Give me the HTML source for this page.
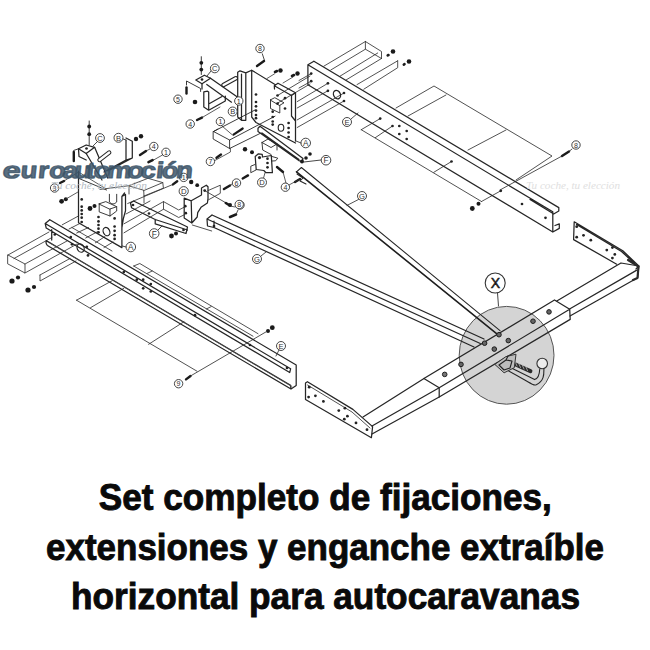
<!DOCTYPE html>
<html><head><meta charset="utf-8">
<style>
html,body{margin:0;padding:0;background:#fff;width:650px;height:650px;overflow:hidden}
svg{display:block}
</style></head><body>
<svg width="650" height="650" viewBox="0 0 650 650">
<rect width="650" height="650" fill="#fff"/>
<path d="M365.4,41.5 L323.8,66.2 M365.4,49.2 L330.8,70 M377.7,53 L340,76.2 M381.5,58.5 L346,80 M365.4,41.5 L381.5,51.5 L381.5,58.5 M365.4,41.5 L365.4,49.2 L381.5,58.5 M397.7,60.8 L357,84.6 M397.7,60.8 L397.7,67.7 L363.8,89.2" fill="none" stroke="#333" stroke-width="0.85" stroke-linejoin="round" stroke-linecap="round" />
<path d="M387.7,55.4 L388.5,55" stroke="#1a1a1a" stroke-width="2.6" stroke-linecap="round"/>
<circle cx="393" cy="51.5" r="2.3" fill="#1a1a1a"/>
<path d="M403.8,64.6 L404.5,64.2" stroke="#1a1a1a" stroke-width="2.6" stroke-linecap="round"/>
<circle cx="409" cy="61.5" r="2.3" fill="#1a1a1a"/>
<path d="M396,108 L434,86 L552,156 L516,180 M408,116 L446,95 M468,150 L506,130" fill="none" stroke="#333" stroke-width="0.85" stroke-linejoin="round" stroke-linecap="round" />
<path d="M361.2,129.7 L481.5,201.5 M361.2,129.7 L380.2,118.6 M375.3,137.7 L392.5,126 M433.8,172.3 L451.5,161.5 M481.5,201.5 L500.8,190.8" fill="none" stroke="#333" stroke-width="0.85" stroke-linejoin="round" stroke-linecap="round" />
<path d="M311.2,73.6 L299,80.5 M311.2,81.2 L299,88" fill="none" stroke="#333" stroke-width="0.85" stroke-linejoin="round" stroke-linecap="round" />
<path d="M297.2,101.6 L327.9,83.3 M297.2,108 L327.9,90.8 M297.2,119.9 L344,93 M297.2,127.5 L344,101" fill="none" stroke="#333" stroke-width="0.85" stroke-linejoin="round" stroke-linecap="round" />
<path d="M277.7,95.4 L310,76 M277.7,103 L310,84" fill="none" stroke="#333" stroke-width="0.85" stroke-linejoin="round" stroke-linecap="round" />
<path d="M8,255 L49,232 M25,264 L67,241 M8,255 L25,264 L25,273 L8,264 Z M25,273 L77,244 M14,258.5 L52,237.5" fill="none" stroke="#333" stroke-width="0.85" stroke-linejoin="round" stroke-linecap="round" />
<path d="M40,275 L40,281 L76,261 M40,275 L70,258.5" fill="none" stroke="#333" stroke-width="0.85" stroke-linejoin="round" stroke-linecap="round" />
<circle cx="12" cy="281" r="2.6" fill="#1a1a1a"/>
<circle cx="18" cy="277.5" r="2.1" fill="#1a1a1a"/>
<circle cx="28" cy="290" r="2.6" fill="#1a1a1a"/>
<circle cx="34" cy="287" r="2.1" fill="#1a1a1a"/>
<path d="M62.2,224.8 L78.8,215.8 M69,229 L80,223.4 M76.7,233 L88.5,227.5 M85.7,238 L97.5,231.7 M95.4,242.8 L105,236.5 M104,247.5 L113,242 M71.9,227.5 L112,251" fill="none" stroke="#333" stroke-width="0.85" stroke-linejoin="round" stroke-linecap="round" />
<path d="M127.7,203.5 L172,184.8 M126,214 L150,201" fill="none" stroke="#333" stroke-width="0.85" stroke-linejoin="round" stroke-linecap="round" />
<path d="M173,184.4 L177.2,181.2" stroke="#1a1a1a" stroke-width="2.4" stroke-linecap="round"/>
<circle cx="183.7" cy="177.4" r="4.2" fill="#fff" stroke="#333" stroke-width="0.9"/>
<text x="183.7" y="180.0" font-family="Liberation Sans, sans-serif" font-size="7.1" text-anchor="middle" fill="#333">1</text>
<path d="M76.5,300.2 L112,280.8 M76.5,300.2 L197,371.2 M90.5,307.7 L123.8,288.3 M148.6,344.3 L184,321.7" fill="none" stroke="#333" stroke-width="0.85" stroke-linejoin="round" stroke-linecap="round" />
<path d="M133.7,266 L139.8,263.5 L258,333.7 M133.7,266 L253,336.2 M147.2,273.4 L152.2,271 M206.3,309 L211.2,306.6" fill="none" stroke="#333" stroke-width="0.85" stroke-linejoin="round" stroke-linecap="round" />
<path d="M186,379.4 L190.5,376" stroke="#1a1a1a" stroke-width="2.4" stroke-linecap="round"/>
<path d="M190.5,376 L265.8,332" fill="none" stroke="#333" stroke-width="0.85" stroke-linejoin="round" stroke-linecap="round" />
<circle cx="178.6" cy="383.7" r="4.2" fill="#fff" stroke="#333" stroke-width="0.9"/>
<text x="178.6" y="386.3" font-family="Liberation Sans, sans-serif" font-size="7.1" text-anchor="middle" fill="#333">9</text>
<circle cx="268" cy="331" r="2.0" fill="#1a1a1a"/>
<circle cx="272.3" cy="327.7" r="2.4" fill="#1a1a1a"/>
<circle cx="576" cy="145" r="4.2" fill="#fff" stroke="#333" stroke-width="0.9"/>
<text x="576" y="147.6" font-family="Liberation Sans, sans-serif" font-size="7.1" text-anchor="middle" fill="#333">8</text>
<path d="M562,156 L569,151.5" stroke="#1a1a1a" stroke-width="2.4" stroke-linecap="round"/>
<path d="M569,151.5 L572,149" fill="none" stroke="#333" stroke-width="0.85" stroke-linejoin="round" stroke-linecap="round" />
<path d="M500,190 L562,156" fill="none" stroke="#333" stroke-width="0.85" stroke-linejoin="round" stroke-linecap="round" />
<circle cx="472.3" cy="208.5" r="2.4" fill="#1a1a1a"/>
<circle cx="478.5" cy="203.8" r="2.0" fill="#1a1a1a"/>
<ellipse cx="506.6" cy="355.3" rx="47.4" ry="48.9" fill="#d4d4d4" stroke="#555" stroke-width="1"/>
<path d="M313.9,61.2 L558.8,207.6 L558.8,211 L552.8,214.5 M307.9,64.8 L313.9,61.2 M307.9,64.8 L552.8,211.8 M530,199.5 L553,213.5 M307.9,64.8 L307.9,84.7 L552.8,232 M552.8,211.8 L552.8,232 L559.3,228.4 L559.3,223.8 L555,225.5" fill="none" stroke="#262626" stroke-width="1.25" stroke-linejoin="round" stroke-linecap="round" />
<circle cx="311.2" cy="73.6" r="1.35" fill="#222"/>
<circle cx="311.2" cy="81.2" r="1.35" fill="#222"/>
<circle cx="327.9" cy="83.3" r="1.35" fill="#222"/>
<circle cx="327.9" cy="90.8" r="1.35" fill="#222"/>
<circle cx="344" cy="93" r="1.35" fill="#222"/>
<circle cx="344" cy="101" r="1.35" fill="#222"/>
<circle cx="380.2" cy="118.6" r="1.35" fill="#222"/>
<circle cx="392.5" cy="126" r="1.35" fill="#222"/>
<circle cx="399.3" cy="126" r="1.35" fill="#222"/>
<circle cx="406.7" cy="131" r="1.35" fill="#222"/>
<circle cx="399.3" cy="134" r="1.35" fill="#222"/>
<circle cx="406.7" cy="139" r="1.35" fill="#222"/>
<circle cx="451.5" cy="161.5" r="1.35" fill="#222"/>
<circle cx="500.8" cy="190.8" r="1.35" fill="#222"/>
<circle cx="522" cy="204" r="1.35" fill="#222"/>
<circle cx="545.5" cy="217.8" r="1.35" fill="#222"/>
<ellipse cx="337" cy="94.6" rx="3.4" ry="4.4" transform="rotate(-25 337 94.6)" fill="none" stroke="#222" stroke-width="1.3"/>
<circle cx="347" cy="122" r="4.5" fill="#fff" stroke="#333" stroke-width="0.9"/>
<text x="347" y="124.8" font-family="Liberation Sans, sans-serif" font-size="7.6" text-anchor="middle" fill="#333">E</text>
<path d="M351,119 L358,113" fill="none" stroke="#333" stroke-width="0.85" stroke-linejoin="round" stroke-linecap="round" />
<path d="M49.8,219.7 L296.2,365 L296.2,385.4 L291,389 M45.2,223.5 L49.8,219.7 M45.2,223.5 L290.6,368.8 M45.2,223.5 L46.2,228 L289.7,372.5 L290.6,368.8 M46.2,240.6 L290.6,385.4 M46.2,240.6 Q45.5,244 47.4,245.5 L291,389 L290.6,385.4 M51.7,229.5 L51.7,240" fill="none" stroke="#262626" stroke-width="1.25" stroke-linejoin="round" stroke-linecap="round" />
<path d="M50,243 L292,386.5" fill="none" stroke="#555" stroke-width="0.7" stroke-linejoin="round" stroke-linecap="round" />
<circle cx="54.8" cy="234.5" r="1.35" fill="#222"/>
<circle cx="70.8" cy="237" r="1.35" fill="#222"/>
<circle cx="72" cy="244.3" r="1.35" fill="#222"/>
<circle cx="86.8" cy="246.8" r="1.35" fill="#222"/>
<circle cx="88" cy="255.4" r="1.35" fill="#222"/>
<circle cx="123.8" cy="272" r="1.35" fill="#222"/>
<circle cx="136.8" cy="279.7" r="1.35" fill="#222"/>
<circle cx="143.2" cy="279.7" r="1.35" fill="#222"/>
<circle cx="150.8" cy="284" r="1.35" fill="#222"/>
<circle cx="143.2" cy="288.3" r="1.35" fill="#222"/>
<circle cx="150.8" cy="291.5" r="1.35" fill="#222"/>
<circle cx="195" cy="315.2" r="1.35" fill="#222"/>
<circle cx="250" cy="345" r="1.35" fill="#222"/>
<circle cx="287" cy="368" r="1.35" fill="#222"/>
<ellipse cx="80.6" cy="248" rx="3.4" ry="4.4" transform="rotate(-25 80.6 248)" fill="none" stroke="#222" stroke-width="1.2"/>
<circle cx="281" cy="346" r="4.5" fill="#fff" stroke="#333" stroke-width="0.9"/>
<text x="281" y="348.8" font-family="Liberation Sans, sans-serif" font-size="7.6" text-anchor="middle" fill="#333">E</text>
<path d="M279,350 L276,356" fill="none" stroke="#333" stroke-width="0.85" stroke-linejoin="round" stroke-linecap="round" />
<path d="M212,215 L484,339 M207,219 L212,215 M207,219 L480.3,343.5 M207,219 L207.5,226 L214,227.5 L474,347 M214,221 L214,227.5" fill="none" stroke="#262626" stroke-width="1.25" stroke-linejoin="round" stroke-linecap="round" />
<circle cx="214" cy="226" r="1.35" fill="#222"/>
<circle cx="257" cy="259" r="4.5" fill="#fff" stroke="#333" stroke-width="0.9"/>
<text x="257" y="261.8" font-family="Liberation Sans, sans-serif" font-size="7.6" text-anchor="middle" fill="#333">G</text>
<path d="M261,256 L266,252" fill="none" stroke="#333" stroke-width="0.85" stroke-linejoin="round" stroke-linecap="round" />
<path d="M230,217 L236,214.5" stroke="#1a1a1a" stroke-width="2.6" stroke-linecap="round"/>
<path d="M236,214.5 L238,210" fill="none" stroke="#333" stroke-width="0.85" stroke-linejoin="round" stroke-linecap="round" />
<circle cx="240" cy="205" r="4.2" fill="#fff" stroke="#333" stroke-width="0.9"/>
<text x="240" y="207.6" font-family="Liberation Sans, sans-serif" font-size="7.1" text-anchor="middle" fill="#333">8</text>
<path d="M301.4,167.5 L500,330.6 M296.5,171.8 L301.4,167.5 M297,174 L303,178 L300,181 L306,184" fill="none" stroke="#262626" stroke-width="1.05" stroke-linejoin="round" stroke-linecap="round" />
<path d="M296.5,171.8 L497.5,334.3" fill="none" stroke="#1e1e1e" stroke-width="1.6" stroke-linejoin="round" stroke-linecap="round" />
<circle cx="362" cy="196" r="4.5" fill="#fff" stroke="#333" stroke-width="0.9"/>
<text x="362" y="198.8" font-family="Liberation Sans, sans-serif" font-size="7.6" text-anchor="middle" fill="#333">G</text>
<path d="M358.5,199.5 L347,205.4" fill="none" stroke="#333" stroke-width="0.85" stroke-linejoin="round" stroke-linecap="round" />
<path d="M305.5,383 L307.4,381.7 L352.9,409.4 L372.6,426.6 L371.4,437.7 L305.5,399.5 Z" fill="none" stroke="#262626" stroke-width="1.25" stroke-linejoin="round"/>
<path d="M307.5,385 L352,412 L370,428" fill="none" stroke="#262626" stroke-width="0.8" stroke-linejoin="round" stroke-linecap="round" />
<circle cx="309.2" cy="387.2" r="1.4" fill="#222"/>
<circle cx="308.6" cy="397.1" r="1.4" fill="#222"/>
<circle cx="315.4" cy="395.8" r="1.4" fill="#222"/>
<circle cx="323.4" cy="401.4" r="1.4" fill="#222"/>
<circle cx="338.8" cy="410.6" r="1.4" fill="#222"/>
<circle cx="344.9" cy="408.2" r="1.4" fill="#222"/>
<circle cx="347.4" cy="416.2" r="1.4" fill="#222"/>
<circle cx="344.3" cy="419.2" r="1.4" fill="#222"/>
<circle cx="356" cy="422.9" r="1.4" fill="#222"/>
<circle cx="367" cy="429.7" r="1.4" fill="#222"/>
<path d="M363,417 L424,378.5 M372,426 L439.2,387.8 M372,434 L439.2,397" fill="none" stroke="#262626" stroke-width="1.25" stroke-linejoin="round" stroke-linecap="round" />
<path d="M423.9,378.5 L554.5,300 L569.7,309.2 L439.2,387.8 Z M439.2,387.8 L439.2,397 L570.2,319.4 L569.7,309.2" fill="none" stroke="#262626" stroke-width="1.25" stroke-linejoin="round" stroke-linecap="round" />
<circle cx="444.7" cy="374.4" r="2.3" fill="#777" stroke="#222" stroke-width="1"/>
<path d="M556.8,301 L616.7,265.5 M570,308.8 L636.4,270.4 M570,316 L637.6,277.8 M616.7,265.5 L621,263 L638.8,266 L637.6,277.8" fill="none" stroke="#262626" stroke-width="1.25" stroke-linejoin="round" stroke-linecap="round" />
<path d="M574.2,221.8 L622.8,250.7 L638.8,266 L636,269 M574.2,221.8 L573.6,239.6 L616.7,264.2 M576.5,224.5 L621.5,251.5 L634,263" fill="none" stroke="#262626" stroke-width="1.25" stroke-linejoin="round" stroke-linecap="round" />
<path d="M628,260 L638.5,266.5 L637.5,278 L633,280" fill="none" stroke="#2a2a2a" stroke-width="2.2" stroke-linejoin="round" stroke-linecap="round" />
<circle cx="576.7" cy="226.7" r="1.4" fill="#222"/>
<circle cx="576.7" cy="237.2" r="1.4" fill="#222"/>
<circle cx="583.5" cy="235.3" r="1.4" fill="#222"/>
<circle cx="590.8" cy="240.2" r="1.4" fill="#222"/>
<circle cx="606.8" cy="250.1" r="1.4" fill="#222"/>
<circle cx="612.4" cy="247.6" r="1.4" fill="#222"/>
<circle cx="614.8" cy="254.4" r="1.4" fill="#222"/>
<circle cx="612.4" cy="258.1" r="1.4" fill="#222"/>
<circle cx="461" cy="364.4" r="2.3" fill="#666" stroke="#1e1e1e" stroke-width="1"/>
<circle cx="484.6" cy="343.2" r="2.3" fill="#666" stroke="#1e1e1e" stroke-width="1"/>
<circle cx="499" cy="334.7" r="2.3" fill="#666" stroke="#1e1e1e" stroke-width="1"/>
<circle cx="508.3" cy="340.6" r="2.3" fill="#666" stroke="#1e1e1e" stroke-width="1"/>
<circle cx="494.3" cy="349.1" r="2.3" fill="#666" stroke="#1e1e1e" stroke-width="1"/>
<circle cx="533" cy="321.2" r="2.3" fill="#666" stroke="#1e1e1e" stroke-width="1"/>
<circle cx="549" cy="311.9" r="2.3" fill="#666" stroke="#1e1e1e" stroke-width="1"/>
<path d="M543.9,368.6 C544,375 544,381 536.3,384.7 C533,386 531,383 507.5,370.3 M539.7,369.4 C539.5,374 539,378 534.6,379.6 L510.9,367.7" fill="none" stroke="#262626" stroke-width="1.1" stroke-linejoin="round" stroke-linecap="round" />
<path d="M513.4,363.5 L530.4,371.1" fill="none" stroke="#2a2a2a" stroke-width="4.0" stroke-linejoin="round" stroke-linecap="round" />
<path d="M515,361.5 L517,366 M518.5,363 L520.5,367.5 M522,364.5 L524,369 M525.5,366 L527.5,370.5" fill="none" stroke="#bbb" stroke-width="0.8" stroke-linejoin="round" stroke-linecap="round" />
<path d="M494.8,364.4 L505.8,356.7 L516,354.2 L514.3,367.7 L504.1,372.8 Z" fill="#bdbdbd" stroke="#333" stroke-width="1.0" stroke-linejoin="round"/>
<path d="M499,365 L506,360 L512,361 L510,368 L504,370 Z M506,360 L508,356" fill="none" stroke="#222" stroke-width="1.1" stroke-linejoin="round" stroke-linecap="round" />
<circle cx="542.2" cy="363.5" r="5.3" fill="#ececec" stroke="#333" stroke-width="1.1"/>
<circle cx="495.2" cy="283" r="10" fill="#fff" stroke="#333" stroke-width="1.1"/>
<text x="495.3" y="288.2" font-family="Liberation Sans, sans-serif" font-size="14" text-anchor="middle" fill="#1a1a1a" stroke="#1a1a1a" stroke-width="0.5">X</text>
<path d="M497.5,293 L498.5,306" fill="none" stroke="#444" stroke-width="1.0" stroke-linejoin="round" stroke-linecap="round" />
<path d="M237.7,72.3 L240,70.8 L245.8,72.9 L245.8,120.3 L241.5,120.3 L237.7,117 Z M241.5,74 L241.5,120.3 M245.8,72.9 L251.7,70.2 L275.4,84.8 M251.7,70.2 L251.7,117 L256,122.5 L295.5,143 M274.3,85.8 L278,83.2 L295.5,92.8 L291.5,95.5 Z M274.3,85.8 L274.5,89 M291.5,95.5 L291.5,116 L295.5,121 M295.5,92.8 L295.5,141" fill="none" stroke="#262626" stroke-width="1.25" stroke-linejoin="round" stroke-linecap="round" />
<path d="M270.5,99.8 L274.8,97.7 L284,102.8 L279.8,105.3 Z M270.5,99.8 L270.5,108.5 L279.8,113 L279.8,105.3" fill="none" stroke="#262626" stroke-width="0.9" stroke-linejoin="round" stroke-linecap="round" />
<circle cx="256" cy="94.5" r="1.35" fill="#222"/>
<circle cx="256" cy="102" r="1.35" fill="#222"/>
<circle cx="256" cy="106.3" r="1.35" fill="#222"/>
<circle cx="256" cy="110.6" r="1.35" fill="#222"/>
<circle cx="256" cy="115" r="1.35" fill="#222"/>
<circle cx="256" cy="118.2" r="1.35" fill="#222"/>
<circle cx="277.5" cy="95.5" r="1.35" fill="#222"/>
<circle cx="277.5" cy="103.6" r="1.35" fill="#222"/>
<circle cx="285" cy="98.2" r="1.35" fill="#222"/>
<circle cx="285" cy="108.5" r="1.35" fill="#222"/>
<circle cx="272.7" cy="111.7" r="1.35" fill="#222"/>
<circle cx="272.7" cy="117" r="1.35" fill="#222"/>
<circle cx="272.7" cy="121.5" r="1.35" fill="#222"/>
<circle cx="272.7" cy="124.6" r="1.35" fill="#222"/>
<circle cx="288.6" cy="123" r="1.35" fill="#222"/>
<circle cx="288.6" cy="128" r="1.35" fill="#222"/>
<circle cx="288.6" cy="132.5" r="1.35" fill="#222"/>
<circle cx="288.6" cy="137" r="1.35" fill="#222"/>
<ellipse cx="281" cy="127.7" rx="2.8" ry="3.5" fill="none" stroke="#222" stroke-width="1.1"/>
<circle cx="305.7" cy="143" r="4.8" fill="#fff" stroke="#333" stroke-width="0.9"/>
<text x="305.7" y="146.0" font-family="Liberation Sans, sans-serif" font-size="8.2" text-anchor="middle" fill="#333">A</text>
<path d="M296,141 L301,143" fill="none" stroke="#333" stroke-width="0.9" stroke-linejoin="round" stroke-linecap="round" />
<circle cx="260" cy="48.5" r="4.2" fill="#fff" stroke="#333" stroke-width="0.9"/>
<text x="260" y="51.1" font-family="Liberation Sans, sans-serif" font-size="7.1" text-anchor="middle" fill="#333">8</text>
<path d="M262.3,53.8 L264.6,60.8" fill="none" stroke="#333" stroke-width="0.9" stroke-linejoin="round" stroke-linecap="round" />
<path d="M257,66 L264,61" stroke="#1a1a1a" stroke-width="2.4" stroke-linecap="round"/>
<path d="M275,72 L277,71" stroke="#1a1a1a" stroke-width="2.6" stroke-linecap="round"/>
<circle cx="280.5" cy="70.5" r="2.2" fill="#1a1a1a"/>
<path d="M292,76 L294,75" stroke="#1a1a1a" stroke-width="2.6" stroke-linecap="round"/>
<circle cx="297.5" cy="73.5" r="2.2" fill="#1a1a1a"/>
<path d="M274.6,73.8 L267,78.5 M293,77 L283,83" fill="none" stroke="#333" stroke-width="0.8" stroke-linejoin="round" stroke-linecap="round" />
<path d="M223.5,85 L235.8,78.3" fill="none" stroke="#262626" stroke-width="4.6" stroke-linejoin="round" stroke-linecap="round" />
<path d="M223.5,85 L235.8,78.3" fill="none" stroke="#fff" stroke-width="2.4" stroke-linejoin="round" stroke-linecap="round" />
<path d="M195.8,80 L204.4,75.2 L210.5,78.2 L202,83.8 Z" fill="none" stroke="#262626" stroke-width="1.25" stroke-linejoin="round"/>
<circle cx="202" cy="79.5" r="1.35" fill="#222"/>
<path d="M210.5,78.2 L238.8,98 M206.8,84.4 L231.5,102.2 M202,83.8 L202,89" fill="none" stroke="#262626" stroke-width="1.25" stroke-linejoin="round" stroke-linecap="round" />
<path d="M201.3,56.7 L201.3,74.5" fill="none" stroke="#262626" stroke-width="0.9" stroke-linejoin="round" stroke-linecap="round" />
<circle cx="201.3" cy="62.8" r="1.9" fill="#1a1a1a"/>
<circle cx="201.3" cy="69.6" r="1.9" fill="#1a1a1a"/>
<circle cx="214.8" cy="68.4" r="4.4" fill="#fff" stroke="#333" stroke-width="0.9"/>
<text x="214.8" y="71.1" font-family="Liberation Sans, sans-serif" font-size="7.5" text-anchor="middle" fill="#333">C</text>
<path d="M211,71 L207,76" fill="none" stroke="#333" stroke-width="0.9" stroke-linejoin="round" stroke-linecap="round" />
<path d="M186.5,85 L186.5,81 L200.6,88.5 L200.6,91.5" fill="none" stroke="#262626" stroke-width="0.9" stroke-linejoin="round" stroke-linecap="round" />
<path d="M186.5,87.5 L186.5,93.6" stroke="#1a1a1a" stroke-width="2.4" stroke-linecap="round"/>
<circle cx="178" cy="99.2" r="4.2" fill="#fff" stroke="#333" stroke-width="0.9"/>
<text x="178" y="101.8" font-family="Liberation Sans, sans-serif" font-size="7.1" text-anchor="middle" fill="#333">5</text>
<path d="M203.8,91.8 L207.5,91.2 L208.7,92 L208.7,110.2 L203.8,107 Z M208.7,110.2 L225.3,101 L225.3,96 M208.7,104 L222,96.5" fill="none" stroke="#262626" stroke-width="1.25" stroke-linejoin="round" stroke-linecap="round" />
<circle cx="195" cy="102" r="2.3" fill="#1a1a1a"/>
<circle cx="232.7" cy="111.5" r="4.5" fill="#fff" stroke="#333" stroke-width="0.9"/>
<text x="232.7" y="114.3" font-family="Liberation Sans, sans-serif" font-size="7.6" text-anchor="middle" fill="#333">B</text>
<circle cx="238.8" cy="101" r="4.2" fill="#fff" stroke="#333" stroke-width="0.9"/>
<text x="238.8" y="103.6" font-family="Liberation Sans, sans-serif" font-size="7.1" text-anchor="middle" fill="#333">1</text>
<path d="M197,120 L202,117.6" stroke="#1a1a1a" stroke-width="2.4" stroke-linecap="round"/>
<circle cx="190.2" cy="124" r="4.2" fill="#fff" stroke="#333" stroke-width="0.9"/>
<text x="190.2" y="126.6" font-family="Liberation Sans, sans-serif" font-size="7.1" text-anchor="middle" fill="#333">4</text>
<path d="M202,117.6 L220,107" fill="none" stroke="#333" stroke-width="0.8" stroke-linejoin="round" stroke-linecap="round" />
<path d="M213.5,131.5 L229.6,140 L229.6,148.5 L213.5,139.2 Z M213.5,131.5 L255,110 M229.6,140 L275,116.2 M229.6,148.5 L261,133 M213.5,131.5 L218,129" fill="none" stroke="#262626" stroke-width="0.9" stroke-linejoin="round" stroke-linecap="round" />
<circle cx="220.4" cy="121.5" r="4.2" fill="#fff" stroke="#333" stroke-width="0.9"/>
<text x="220.4" y="124.1" font-family="Liberation Sans, sans-serif" font-size="7.1" text-anchor="middle" fill="#333">1</text>
<path d="M222,126 L232,134.6" fill="none" stroke="#333" stroke-width="0.8" stroke-linejoin="round" stroke-linecap="round" />
<path d="M233.5,134.6 L242.7,128.5" stroke="#1a1a1a" stroke-width="2.2" stroke-linecap="round"/>
<path d="M230.4,148.5 L230.4,152 L214,161" fill="none" stroke="#333" stroke-width="0.8" stroke-linejoin="round" stroke-linecap="round" />
<path d="M216.5,157.7 L221,154.6" stroke="#1a1a1a" stroke-width="2.4" stroke-linecap="round"/>
<circle cx="210.4" cy="161.5" r="4.2" fill="#fff" stroke="#333" stroke-width="0.9"/>
<text x="210.4" y="164.1" font-family="Liberation Sans, sans-serif" font-size="7.1" text-anchor="middle" fill="#333">7</text>
<path d="M255.2,156.5 L258.4,153.8 L262.2,154.4 L262.5,157 L271.3,155.5 L272.4,172.7 L266,172.7 L263.8,170.5 L256.2,169.5 Z" fill="none" stroke="#262626" stroke-width="1.25" stroke-linejoin="round" stroke-linecap="round" />
<path d="M255,164.5 L250.8,166.2 L250.8,172.7 L256,170 M272,156.5 L277.8,158.2 L275.6,160.8 L272.2,161" fill="none" stroke="#262626" stroke-width="0.9" stroke-linejoin="round" stroke-linecap="round" />
<path d="M262,142.5 L262.7,150 L271,154.5 M262,142.5 L268,139 L277,144 L277,150 M262,142.5 L271,147.5 L277,144" fill="none" stroke="#262626" stroke-width="0.9" stroke-linejoin="round" stroke-linecap="round" />
<circle cx="267.5" cy="158.7" r="1.35" fill="#222"/>
<circle cx="267.5" cy="163" r="1.35" fill="#222"/>
<circle cx="267.5" cy="167.3" r="1.35" fill="#222"/>
<circle cx="259.5" cy="157.6" r="1.6" fill="#222"/>
<circle cx="245" cy="149.2" r="2.2" fill="#1a1a1a"/>
<circle cx="252" cy="152.3" r="2.0" fill="#1a1a1a"/>
<circle cx="262" cy="182.4" r="4.5" fill="#fff" stroke="#333" stroke-width="0.9"/>
<text x="262" y="185.2" font-family="Liberation Sans, sans-serif" font-size="7.6" text-anchor="middle" fill="#333">D</text>
<path d="M263.6,177.8 L265,172.8" fill="none" stroke="#333" stroke-width="0.8" stroke-linejoin="round" stroke-linecap="round" />
<path d="M242.7,178.5 L248,175.4" stroke="#1a1a1a" stroke-width="2.4" stroke-linecap="round"/>
<circle cx="236.5" cy="183" r="4.2" fill="#fff" stroke="#333" stroke-width="0.9"/>
<text x="236.5" y="185.6" font-family="Liberation Sans, sans-serif" font-size="7.1" text-anchor="middle" fill="#333">6</text>
<path d="M258,128.3 L260,126.2 L303,158.5 L302,161.5 L298.8,160.6 L258,131.5 Z M262,133 L299,159.5" fill="none" stroke="#262626" stroke-width="1.25" stroke-linejoin="round" stroke-linecap="round" />
<circle cx="302" cy="161.4" r="2.0" fill="#1a1a1a"/>
<circle cx="306" cy="158" r="1.8" fill="#1a1a1a"/>
<circle cx="310" cy="154" r="1.8" fill="#1a1a1a"/>
<circle cx="326" cy="160.2" r="4.8" fill="#fff" stroke="#333" stroke-width="0.9"/>
<text x="326" y="163.2" font-family="Liberation Sans, sans-serif" font-size="8.2" text-anchor="middle" fill="#333">F</text>
<path d="M304,162 L321,160" fill="none" stroke="#333" stroke-width="0.9" stroke-linejoin="round" stroke-linecap="round" />
<path d="M277,167 L283,172" stroke="#1a1a1a" stroke-width="2.4" stroke-linecap="round"/>
<circle cx="285.4" cy="187.2" r="4.2" fill="#fff" stroke="#333" stroke-width="0.9"/>
<text x="285.4" y="189.8" font-family="Liberation Sans, sans-serif" font-size="7.1" text-anchor="middle" fill="#333">4</text>
<path d="M283,172 L286,183" fill="none" stroke="#333" stroke-width="0.8" stroke-linejoin="round" stroke-linecap="round" />
<path d="M295,182 L300,179" stroke="#1a1a1a" stroke-width="2.4" stroke-linecap="round"/>
<path d="M300,179 L289,185" fill="none" stroke="#333" stroke-width="0.8" stroke-linejoin="round" stroke-linecap="round" />
<path d="M78.5,171 L78.5,222.8 L121.9,247.6 L121.9,196.5 L124.6,193 M121.9,196.5 L125.5,194.5 L125.5,210.8 Q123,218 121.9,228" fill="none" stroke="#262626" stroke-width="1.25" stroke-linejoin="round" stroke-linecap="round" />
<path d="M78.5,178.3 L106.5,190 M99.2,203.8 L105.8,201.6 L116.7,206.7 L110,209 Z M99.2,203.8 L99.2,211.9 L110,216 L116.7,211 L116.7,206.7 M110,209 L110,216" fill="none" stroke="#262626" stroke-width="0.9" stroke-linejoin="round" stroke-linecap="round" />
<path d="M109.4,194.3 L109.4,202 Q113,206 116.7,202 L116.7,194.3" fill="none" stroke="#262626" stroke-width="0.9" stroke-linejoin="round" stroke-linecap="round" />
<circle cx="81.7" cy="199.4" r="1.35" fill="#222"/>
<circle cx="81.7" cy="206.7" r="1.35" fill="#222"/>
<circle cx="81.7" cy="210.4" r="1.35" fill="#222"/>
<circle cx="81.7" cy="214" r="1.35" fill="#222"/>
<circle cx="81.7" cy="217.7" r="1.35" fill="#222"/>
<circle cx="81.7" cy="222" r="1.35" fill="#222"/>
<circle cx="98.5" cy="217" r="1.35" fill="#222"/>
<circle cx="98.5" cy="221.4" r="1.35" fill="#222"/>
<circle cx="98.5" cy="225" r="1.35" fill="#222"/>
<circle cx="98.5" cy="228.7" r="1.35" fill="#222"/>
<circle cx="98.5" cy="232.3" r="1.35" fill="#222"/>
<circle cx="114.6" cy="218.4" r="1.35" fill="#222"/>
<circle cx="114.6" cy="226.5" r="1.35" fill="#222"/>
<circle cx="114.6" cy="230.8" r="1.35" fill="#222"/>
<circle cx="114.6" cy="235.2" r="1.35" fill="#222"/>
<circle cx="114.6" cy="238.9" r="1.35" fill="#222"/>
<ellipse cx="106.5" cy="231.6" rx="3.2" ry="4.3" transform="rotate(-25 106.5 231.6)" fill="none" stroke="#222" stroke-width="1.2"/>
<circle cx="130.8" cy="247" r="4.8" fill="#fff" stroke="#333" stroke-width="0.9"/>
<text x="130.8" y="250.0" font-family="Liberation Sans, sans-serif" font-size="8.2" text-anchor="middle" fill="#333">A</text>
<path d="M122.3,246 L126,247" fill="none" stroke="#333" stroke-width="0.9" stroke-linejoin="round" stroke-linecap="round" />
<path d="M78.5,148.8 L86.2,145 L94.6,147.3 L86.2,153.5 Z" fill="none" stroke="#262626" stroke-width="1.25" stroke-linejoin="round"/>
<circle cx="86.5" cy="148.5" r="1.35" fill="#222"/>
<path d="M78.5,148.8 L79,156.5 L86.2,160 M94.6,147.3 L107.7,178 M86.2,153.5 L102,180" fill="none" stroke="#262626" stroke-width="1.25" stroke-linejoin="round" stroke-linecap="round" />
<path d="M89.2,121 L89.2,145" fill="none" stroke="#262626" stroke-width="0.9" stroke-linejoin="round" stroke-linecap="round" />
<circle cx="89.2" cy="126.5" r="1.9" fill="#1a1a1a"/>
<circle cx="89.2" cy="134.2" r="1.9" fill="#1a1a1a"/>
<circle cx="100" cy="138" r="4.4" fill="#fff" stroke="#333" stroke-width="0.9"/>
<text x="100" y="140.7" font-family="Liberation Sans, sans-serif" font-size="7.5" text-anchor="middle" fill="#333">C</text>
<path d="M97,142 L93,146" fill="none" stroke="#333" stroke-width="0.9" stroke-linejoin="round" stroke-linecap="round" />
<path d="M126,138 L132.3,141.2 L132.3,158 L126,160 L126,140 M126,160 L104,172 M132.3,158 L108,171" fill="none" stroke="#262626" stroke-width="1.25" stroke-linejoin="round" stroke-linecap="round" />
<path d="M99.5,160 L109.2,152.5" fill="none" stroke="#262626" stroke-width="4.4" stroke-linejoin="round" stroke-linecap="round" />
<path d="M99.5,160 L109.2,152.5" fill="none" stroke="#fff" stroke-width="2.3" stroke-linejoin="round" stroke-linecap="round" />
<circle cx="118.5" cy="137.8" r="4.5" fill="#fff" stroke="#333" stroke-width="0.9"/>
<text x="118.5" y="140.6" font-family="Liberation Sans, sans-serif" font-size="7.6" text-anchor="middle" fill="#333">B</text>
<path d="M123,139 L126,140" fill="none" stroke="#333" stroke-width="0.9" stroke-linejoin="round" stroke-linecap="round" />
<circle cx="136" cy="139" r="2.2" fill="#1a1a1a"/>
<circle cx="141" cy="136.2" r="2.2" fill="#1a1a1a"/>
<path d="M73.8,150.4 L78.5,148.8" fill="none" stroke="#262626" stroke-width="0.9" stroke-linejoin="round" stroke-linecap="round" />
<path d="M73.8,152 L73.8,161" stroke="#1a1a1a" stroke-width="2.4" stroke-linecap="round"/>
<circle cx="153.8" cy="146.5" r="4.2" fill="#fff" stroke="#333" stroke-width="0.9"/>
<text x="153.8" y="149.1" font-family="Liberation Sans, sans-serif" font-size="7.1" text-anchor="middle" fill="#333">4</text>
<path d="M140,155 L146,151" stroke="#1a1a1a" stroke-width="2.4" stroke-linecap="round"/>
<path d="M146,151 L150,149" fill="none" stroke="#333" stroke-width="0.8" stroke-linejoin="round" stroke-linecap="round" />
<circle cx="166" cy="152.3" r="4.2" fill="#fff" stroke="#333" stroke-width="0.9"/>
<text x="166" y="154.9" font-family="Liberation Sans, sans-serif" font-size="7.1" text-anchor="middle" fill="#333">1</text>
<path d="M162.5,155 L152.6,160.6" fill="none" stroke="#333" stroke-width="0.8" stroke-linejoin="round" stroke-linecap="round" />
<path d="M148.5,162.2 L152.5,160.2" stroke="#1a1a1a" stroke-width="2.6" stroke-linecap="round"/>
<circle cx="54.6" cy="188" r="4.2" fill="#fff" stroke="#333" stroke-width="0.9"/>
<text x="54.6" y="190.6" font-family="Liberation Sans, sans-serif" font-size="7.1" text-anchor="middle" fill="#333">3</text>
<path d="M60,183 L64,181" stroke="#1a1a1a" stroke-width="2.4" stroke-linecap="round"/>
<path d="M64,181 L78.5,172" fill="none" stroke="#333" stroke-width="0.8" stroke-linejoin="round" stroke-linecap="round" />
<circle cx="61.6" cy="201.3" r="2.4" fill="#1a1a1a"/>
<circle cx="65.8" cy="199.2" r="2.0" fill="#1a1a1a"/>
<path d="M66,199 L77.6,192.2" fill="none" stroke="#333" stroke-width="0.8" stroke-linejoin="round" stroke-linecap="round" />
<circle cx="90" cy="208.5" r="2.4" fill="#1a1a1a"/>
<circle cx="94.5" cy="206" r="2.0" fill="#1a1a1a"/>
<path d="M78.5,172 L106,188.8" fill="none" stroke="#333" stroke-width="0.8" stroke-linejoin="round" stroke-linecap="round" />
<path d="M130.5,203 L133.5,201 L187.5,227 L186,233.5 L155.2,223.8 L155.2,219.5 L131.5,207.7 Z M155.2,219.5 L187.5,230" fill="none" stroke="#262626" stroke-width="1.25" stroke-linejoin="round" stroke-linecap="round" />
<circle cx="133" cy="205" r="1.35" fill="#222"/>
<circle cx="149" cy="213.5" r="1.35" fill="#222"/>
<circle cx="183.5" cy="230" r="1.35" fill="#222"/>
<circle cx="154.2" cy="233.5" r="4.8" fill="#fff" stroke="#333" stroke-width="0.9"/>
<text x="154.2" y="236.5" font-family="Liberation Sans, sans-serif" font-size="8.2" text-anchor="middle" fill="#333">F</text>
<path d="M158,230 L162,226" fill="none" stroke="#333" stroke-width="0.9" stroke-linejoin="round" stroke-linecap="round" />
<circle cx="171.5" cy="236" r="2.4" fill="#1a1a1a"/>
<circle cx="176" cy="233.5" r="2.0" fill="#1a1a1a"/>
<path d="M124,223.8 L163.5,201.6 L178.7,210 L184.2,207.2 M124,232.8 L163.5,209.2 L178.7,217.5 L184.2,214.8 M163.5,201.6 L163.5,209.2" fill="none" stroke="#333" stroke-width="0.85" stroke-linejoin="round" stroke-linecap="round" />
<path d="M192.3,225 L211.7,231" fill="none" stroke="#333" stroke-width="0.85" stroke-linejoin="round" stroke-linecap="round" />
<path d="M184.2,198.2 L191.2,200.8 L201.5,195 L201.5,188 L206.3,185.2 L208,186.8 L208,198.7 L207.4,203 L201,207.3 L197.7,212.7 L197.2,217 L191.8,223 L184.2,218 Z M191.2,200.8 L191.8,223" fill="none" stroke="#262626" stroke-width="1.25" stroke-linejoin="round" stroke-linecap="round" />
<circle cx="185.3" cy="206.2" r="1.35" fill="#222"/>
<circle cx="185.8" cy="213.2" r="1.35" fill="#222"/>
<circle cx="204.7" cy="190.6" r="1.4" fill="#222"/>
<circle cx="183.7" cy="191.2" r="4.6" fill="#fff" stroke="#333" stroke-width="0.9"/>
<text x="183.7" y="194.1" font-family="Liberation Sans, sans-serif" font-size="7.8" text-anchor="middle" fill="#333">D</text>
<circle cx="191.2" cy="182" r="2.2" fill="#1a1a1a"/>
<circle cx="197.2" cy="185.2" r="1.9" fill="#1a1a1a"/>
<path d="M208,190.6 L220.3,185.2 L220.3,193.3 L208.5,199.8" fill="none" stroke="#333" stroke-width="0.85" stroke-linejoin="round" stroke-linecap="round" />
<path d="M204.7,190.6 L230,205.2" fill="none" stroke="#333" stroke-width="0.85" stroke-linejoin="round" stroke-linecap="round" />
<path d="M225.8,203 L229,205" stroke="#1a1a1a" stroke-width="2.6" stroke-linecap="round"/>
<circle cx="239.2" cy="204.5" r="4.2" fill="#fff" stroke="#333" stroke-width="0.9"/>
<text x="239.2" y="207.1" font-family="Liberation Sans, sans-serif" font-size="7.1" text-anchor="middle" fill="#333">8</text>
<path d="M230,206 L235,207" fill="none" stroke="#333" stroke-width="0.8" stroke-linejoin="round" stroke-linecap="round" />
<path d="M224,189 L230,185.5" stroke="#1a1a1a" stroke-width="2.6" stroke-linecap="round"/>
<path d="M230,185.5 L232,184" fill="none" stroke="#333" stroke-width="0.8" stroke-linejoin="round" stroke-linecap="round" />
<path d="M129,185.7 L148,178.3 L162.8,182.6 L163.4,188.2 L144,196 L143.7,190.6 Z M143.7,190.6 L162.8,182.6 M144,196 L144,203 M129,185.7 L129,194 M100,189.4 L129,185.7" fill="none" stroke="#333" stroke-width="0.85" stroke-linejoin="round" stroke-linecap="round" />
<circle cx="230" cy="205" r="2.0" fill="#1a1a1a"/>
<text transform="translate(0,177.7) skewX(-6) scale(1.42,1)" x="1.41" y="0" font-family="Liberation Sans, sans-serif" font-weight="bold" font-size="22.8" fill="#3d5569" fill-opacity="0.86" stroke="#3d5569" stroke-opacity="0.86" stroke-width="1.2" stroke-linejoin="round">e</text>
<text transform="translate(0,177.7) skewX(-6) scale(1.2,1)" x="16.67 31.33 40.50 51.58 61.58 71.25 77.50 88.67 105.33 116.58 129.58 134.08 146.17" y="0" font-family="Liberation Sans, sans-serif" font-weight="bold" font-size="22.8" fill="#3d5569" fill-opacity="0.86" stroke="#3d5569" stroke-opacity="0.86" stroke-width="1.2" stroke-linejoin="round">uroautomoción</text>
<text x="51" y="189" font-family="Liberation Serif, serif" font-style="italic" font-size="10" fill="#b4bcc4" textLength="96" lengthAdjust="spacingAndGlyphs">Tu coche, tu elección</text>
<text x="526" y="189" font-family="Liberation Serif, serif" font-style="italic" font-size="10.5" fill="#e0e0e0" textLength="94" lengthAdjust="spacingAndGlyphs">Tu coche, tu elección</text>
<g font-family="Liberation Sans, sans-serif" font-weight="bold" font-size="37" fill="#0a0a0a" stroke="#0a0a0a" stroke-width="0.9"><text x="98.8" y="509.5" textLength="453" lengthAdjust="spacingAndGlyphs">Set completo de fijaciones,</text><text x="46" y="559.5" textLength="558" lengthAdjust="spacingAndGlyphs">extensiones y enganche extraíble</text><text x="71" y="609" textLength="509" lengthAdjust="spacingAndGlyphs">horizontal para autocaravanas</text></g>
</svg>
</body></html>
